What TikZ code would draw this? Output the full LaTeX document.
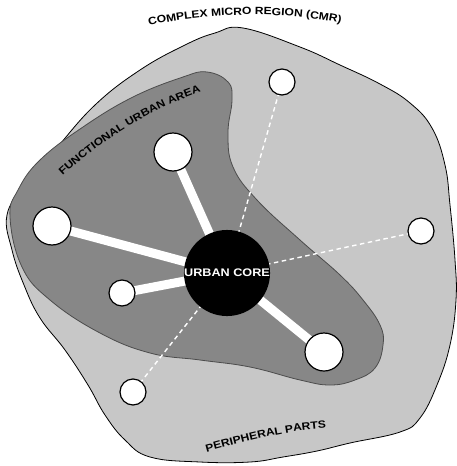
\documentclass[tikz,border=0pt]{standalone}
\usepackage{fontspec}
\newfontfamily\mapfont[FakeStretch=1.15]{Liberation Sans}
\usetikzlibrary{decorations.text}

\pgfdeclarelayer{areas}
\pgfdeclarelayer{links}
\pgfsetlayers{areas,links,main}

\begin{document}
\begin{tikzpicture}[x=1pt, y=-1pt,
    % Stili per le aree
    region/.style={draw=black, line width=0.8pt, fill=black!22},
    urbanarea/.style={draw=black!70, line width=0.8pt, fill=black!47},
    % Stili per i centri
    core/.style={circle, fill=black, text=white, minimum size=84pt,
        inner sep=0pt, font=\mapfont\bfseries\fontsize{11}{12}\selectfont},
    bigcentre/.style={circle, draw=black, fill=white, line width=1.2pt,
        minimum size=38pt, inner sep=0pt},
    smallcentre/.style={circle, draw=black, fill=white, line width=1.2pt,
        minimum size=26pt, inner sep=0pt},
    % Stili per i collegamenti
    spoke/.style={white, line width=9pt},
    weaklink/.style={white, line width=1.4pt, dash pattern=on 4.5pt off 3.5pt},
    % Stile per le scritte curve
    arclabel/.style={decorate, decoration={text along path, text align=center,
        text={|\mapfont\bfseries\fontsize{10.5}{12}\selectfont|#1}}}
]
\useasboundingbox (0,0) rectangle (457,466);

% Centri
\node[core] (core) at (227,273) {URBAN CORE};
\node[bigcentre] (fuaN) at (173,152) {};
\node[bigcentre] (fuaW) at (52,226) {};
\node[smallcentre] (fuaSW) at (122,293) {};
\node[bigcentre] (fuaSE) at (324,352) {};
\node[smallcentre] (perN) at (282,82) {};
\node[smallcentre] (perE) at (421,231) {};
\node[smallcentre] (perSW) at (133,392) {};

\begin{pgfonlayer}{areas}
% Complex micro region
\draw[region] plot[smooth cycle, tension=0.7] coordinates {
    (243,28) (300,47) (340,65) (380,84) (410,103) (432,128) (445,165)
    (450,205) (455,260) (456,300) (450,345) (437,385) (420,418) (400,432)
    (350,443) (317,451) (283,457) (250,462) (200,462) (150,457) (125,440)
    (105,415) (88,385) (65,350) (40,318) (24,285) (12,250) (7,215)
    (25,185) (55,150) (95,105) (140,70) (185,45) (215,33)};
% Functional urban area
\draw[urbanarea] plot[smooth cycle, tension=0.7] coordinates {
    (207,72) (228,82) (232,100) (228,133) (233,167) (257,200) (300,240)
    (340,275) (363,300) (380,325) (383,345) (375,368) (355,380) (330,385)
    (300,380) (250,367) (200,360) (150,353) (100,333) (50,300) (22,267)
    (10,217) (18,190) (40,160) (83,127) (133,97) (183,77)};
\end{pgfonlayer}

% Collegamenti
\begin{pgfonlayer}{links}
\foreach \centre in {fuaN, fuaW, fuaSW, fuaSE} {
    \draw[spoke] (core.center) -- (\centre.center);
}
\foreach \centre in {perN, perE, perSW} {
    \draw[weaklink] (core.center) -- (\centre.center);
}
\end{pgfonlayer}

% Etichette
\path[arclabel={COMPLEX MICRO REGION (CMR)}]
    (142,28) .. controls (195,12) and (290,10) .. (348,25);
\path[arclabel={FUNCTIONAL URBAN AREA}]
    (58,180) .. controls (95,145) and (150,108) .. (207,90);
\path[arclabel={PERIPHERAL PARTS}]
    (203,453) .. controls (240,443) and (285,430) .. (330,428);

\end{tikzpicture}
\end{document}
